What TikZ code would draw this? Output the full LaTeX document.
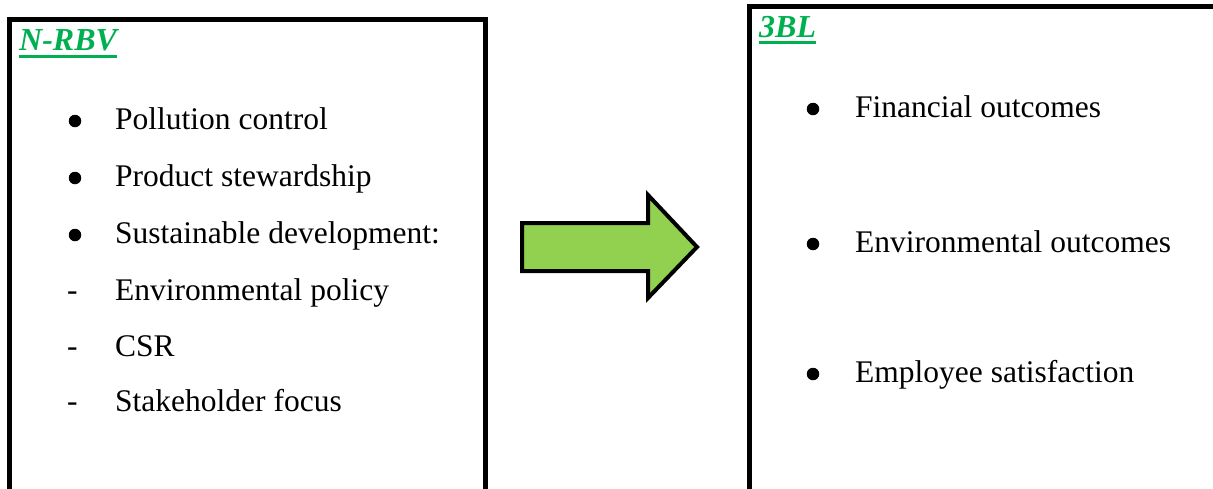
\documentclass[tikz,border=0pt]{standalone}
\usepackage{fontspec}
\setmainfont{Liberation Serif}
\definecolor{titlegreen}{HTML}{00B050}
\definecolor{arrowgreen}{HTML}{92D050}
\begin{document}
\begin{tikzpicture}[x=1pt,y=-1pt,
  panel/.style={draw=black,line width=5pt},
  item/.style={anchor=base west,inner sep=0pt,font=\fontsize{31.5}{38}\selectfont},
  title/.style={anchor=base west,inner sep=0pt,text=titlegreen,font=\fontsize{32}{38}\selectfont\bfseries\itshape},
  uline/.style={draw=titlegreen,line width=3pt},
  dot/.style={circle,fill=black,inner sep=0pt,minimum size=12.5pt},
  dashmark/.style={anchor=base west,inner sep=0pt,font=\fontsize{31.5}{38}\selectfont},
  bigarrow/.style={draw=black,fill=arrowgreen,line width=4pt,line join=miter}]
\useasboundingbox (0,0) rectangle (1213,488);
\begin{scope}
\clip (0,0) rectangle (1213,488);
% left panel
\draw[panel] (9.5,520) -- (9.5,19.5) -- (485.5,19.5) -- (485.5,520);
% right panel
\draw[panel] (749.5,520) -- (749.5,6.5) -- (1240,6.5);
\end{scope}
% titles
\node[title] (t1) at (19,50) {N-RBV};
\draw[uline] ([yshift=-6pt]t1.base west) -- ([yshift=-6pt]t1.base east);
\node[title] (t2) at (759,37) {3BL};
\draw[uline] ([yshift=-5.5pt]t2.base west) -- ([yshift=-5.5pt]t2.base east);
% left items
\node[dot] (b1) at (75,121) {};
\node[item] (l1) at (115,129) {Pollution control};
\node[dot] (b2) at (75,178) {};
\node[item] (l2) at (115,186) {Product stewardship};
\node[dot] (b3) at (75,235) {};
\node[item] (l3) at (115,243) {Sustainable development:};
\node[dashmark] (d1) at (67,300) {-};
\node[item] (l4) at (115,300) {Environmental policy};
\node[dashmark] (d2) at (67,356) {-};
\node[item] (l5) at (115,356) {CSR};
\node[dashmark] (d3) at (67,411) {-};
\node[item] (l6) at (115,411) {Stakeholder focus};
% right items
\node[dot] (r1b) at (813,109) {};
\node[item] (r1) at (855,117) {Financial outcomes};
\node[dot] (r2b) at (813,244) {};
\node[item] (r2) at (855,252) {Environmental outcomes};
\node[dot] (r3b) at (813,374) {};
\node[item] (r3) at (855,382) {Employee satisfaction};
% arrow
\draw[bigarrow] (522,223) -- (648,223) -- (648,195) -- (697,247) -- (648,298) -- (648,271) -- (522,271) -- cycle;
\end{tikzpicture}
\end{document}
